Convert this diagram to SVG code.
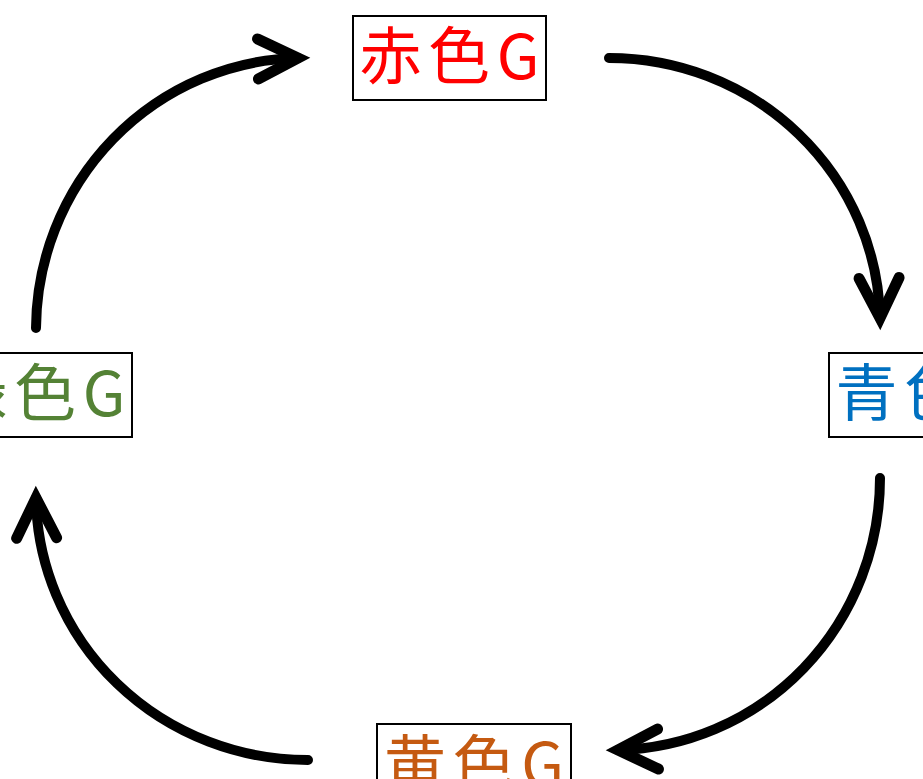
<svg xmlns="http://www.w3.org/2000/svg" width="923" height="779" viewBox="0 0 923 779">
<style>
.box rect{fill:#fff;stroke:#000;stroke-width:2}
.box text{font-family:"Noto Sans CJK JP","Noto Sans CJK SC",sans-serif;font-size:62px;text-anchor:middle}
.arc{fill:none;stroke:#000;stroke-width:10;stroke-linecap:round}
</style>
<defs>
<marker id="ah" markerUnits="userSpaceOnUse" viewBox="-50 -30 60 60" refX="0" refY="0" markerWidth="60" markerHeight="60" orient="auto" overflow="visible">
<path d="M-40,-20 L0,0 L-40,20" fill="none" stroke="#000" stroke-width="11" stroke-linecap="round" stroke-linejoin="miter"/>
</marker>
</defs>
<rect width="923" height="779" fill="#fff"/>
<g id="connectors">
<path class="arc" d="M36,328 A268,272 0 0 1 298,58" marker-end="url(#ah)"/>
<path class="arc" d="M609,58 A271,266 0 0 1 880,318" marker-end="url(#ah)"/>
<path class="arc" d="M880,478 A268,272 0 0 1 618,750" marker-end="url(#ah)"/>
<path class="arc" d="M308,760 A272,266 0 0 1 36,498" marker-end="url(#ah)"/>
</g>
<g id="red" class="box"><rect x="353" y="16" width="193" height="84"/><text x="449.5" y="79" fill="#FF0000" textLength="180" lengthAdjust="spacing">赤色G</text></g>
<g id="blue" class="box"><rect x="829" y="353" width="193" height="84"/><text x="925.5" y="416" fill="#0070C0" textLength="180" lengthAdjust="spacing">青色G</text></g>
<g id="yellow" class="box"><rect x="377" y="724" width="194" height="84"/><text x="474" y="787" fill="#C55A11" textLength="180" lengthAdjust="spacing">黄色G</text></g>
<g id="green" class="box"><rect x="-61" y="353" width="193" height="84"/><text x="35.5" y="416" fill="#548235" textLength="180" lengthAdjust="spacing">緑色G</text></g>
</svg>
